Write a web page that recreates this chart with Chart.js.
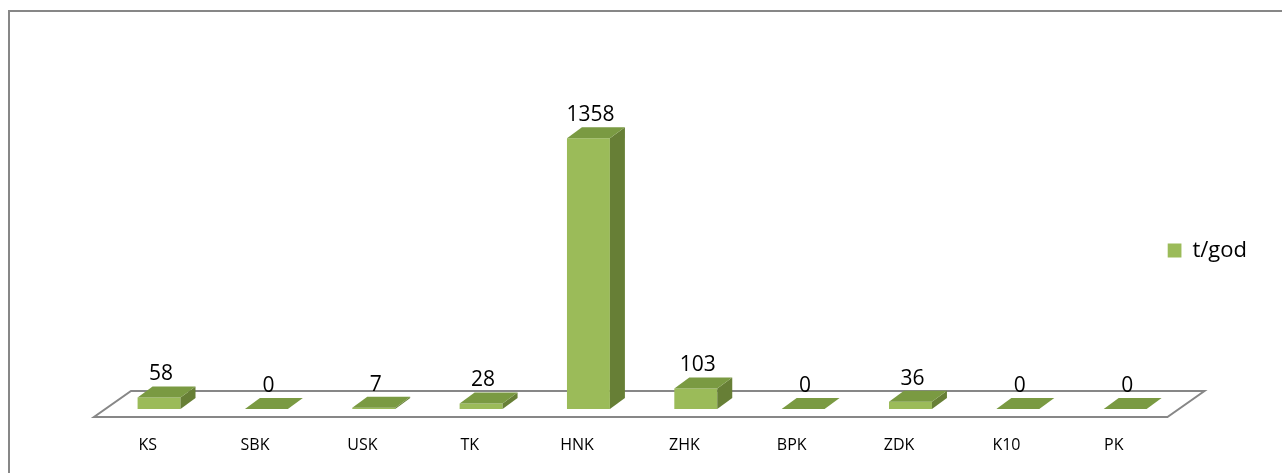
<!DOCTYPE html>
<html>
<head>
<meta charset="utf-8">
<script src="https://cdn.jsdelivr.net/npm/chart.js@4"></script>
<style>
  html, body { margin: 0; padding: 0; background: #fff; }
  #wrap { width: 1282px; height: 473px; }
</style>
</head>
<body>
<div id="wrap"><canvas id="kanal"></canvas></div>
<script>
// podaci
const kategorije = ["KS", "SBK", "USK", "TK", "HNK", "ZHK", "BPK", "ZDK", "K10", "PK"];
const vrijednosti = [58, 0, 7, 28, 1358, 103, 0, 36, 0, 0];
const nazivSerije = "t/god";

const prednja = "#9bbb59";
const vrh = "#7a9a42";
const bok = "#677f36";
const okvir = "#878787";

// 3d izgled: dubina stupca i poda
const dubX = 15, dubY = 11;
const podNaprijed = 8, podNazad = 18;
const nagib = 37 / 26;

const treciD = {
  id: "treciD",
  beforeDraw(chart) {
    const ctx = chart.ctx;
    ctx.save();
    ctx.strokeStyle = okvir;
    ctx.lineWidth = 2;
    ctx.strokeRect(9, 11, 1400, 600);
    ctx.restore();
  },
  beforeDatasetsDraw(chart) {
    const ctx = chart.ctx;
    const a = chart.chartArea;
    const y0 = chart.scales.y.getPixelForValue(0);
    const yf = y0 + podNaprijed;
    const yb = y0 - podNazad;
    const sx = (yf - yb) * nagib;
    ctx.save();
    ctx.strokeStyle = okvir;
    ctx.lineWidth = 2;
    ctx.beginPath();
    ctx.moveTo(a.left, yf);
    ctx.lineTo(a.right, yf);
    ctx.lineTo(a.right + sx, yb);
    ctx.lineTo(a.left + sx, yb);
    ctx.closePath();
    ctx.stroke();
    ctx.restore();
    ctx.save();
    ctx.translate(podNaprijed * nagib, 0);
  },
  afterDatasetsDraw(chart) {
    const ctx = chart.ctx;
    ctx.restore();
    const pomak = podNaprijed * nagib;
    const meta = chart.getDatasetMeta(0);
    ctx.save();
    meta.data.forEach((bar, i) => {
      const x1 = bar.x - bar.width / 2 + pomak;
      const x2 = bar.x + bar.width / 2 + pomak;
      const yt = bar.y;
      const yb = bar.base;
      // bok
      if (yb - yt > 0.5) {
        ctx.fillStyle = bok;
        ctx.beginPath();
        ctx.moveTo(x2, yt);
        ctx.lineTo(x2 + dubX, yt - dubY);
        ctx.lineTo(x2 + dubX, yb - dubY);
        ctx.lineTo(x2, yb);
        ctx.closePath();
        ctx.fill();
      }
      // vrh
      ctx.fillStyle = vrh;
      ctx.beginPath();
      ctx.moveTo(x1, yt);
      ctx.lineTo(x2, yt);
      ctx.lineTo(x2 + dubX, yt - dubY);
      ctx.lineTo(x1 + dubX, yt - dubY);
      ctx.closePath();
      ctx.fill();
      // oznaka
      ctx.fillStyle = "#000";
      ctx.font = "21px 'Open Sans'";
      ctx.textAlign = "center";
      ctx.textBaseline = "alphabetic";
      ctx.fillText(String(vrijednosti[i]), (x1 + x2) / 2 + 2, yt - dubY - 6);
    });
    ctx.restore();
  }
};

new Chart(document.getElementById("kanal"), {
  type: "bar",
  data: {
    labels: kategorije,
    datasets: [{
      label: nazivSerije,
      data: vrijednosti,
      backgroundColor: prednja,
      borderWidth: 0,
      barPercentage: 0.4,
      categoryPercentage: 1
    }]
  },
  options: {
    responsive: true,
    maintainAspectRatio: false,
    animation: false,
    layout: {
      padding: { left: 94, top: 84, right: 25, bottom: 0 }
    },
    scales: {
      x: {
        grid: { display: false, drawTicks: false },
        border: { display: false },
        ticks: {
          color: "#000",
          padding: 19,
          font: { family: "'Open Sans'", size: 16 }
        },
        afterFit: (s) => { s.height = 56; }
      },
      y: {
        display: false,
        min: -40,
        max: 1630
      }
    },
    plugins: {
      legend: {
        position: "right",
        fullSize: false,
        labels: {
          boxWidth: 14,
          boxHeight: 14,
          padding: 0,
          color: "#000",
          font: { family: "'Open Sans'", size: 22 }
        }
      },
      tooltip: { enabled: false }
    }
  },
  plugins: [treciD]
});
</script>
</body>
</html>
